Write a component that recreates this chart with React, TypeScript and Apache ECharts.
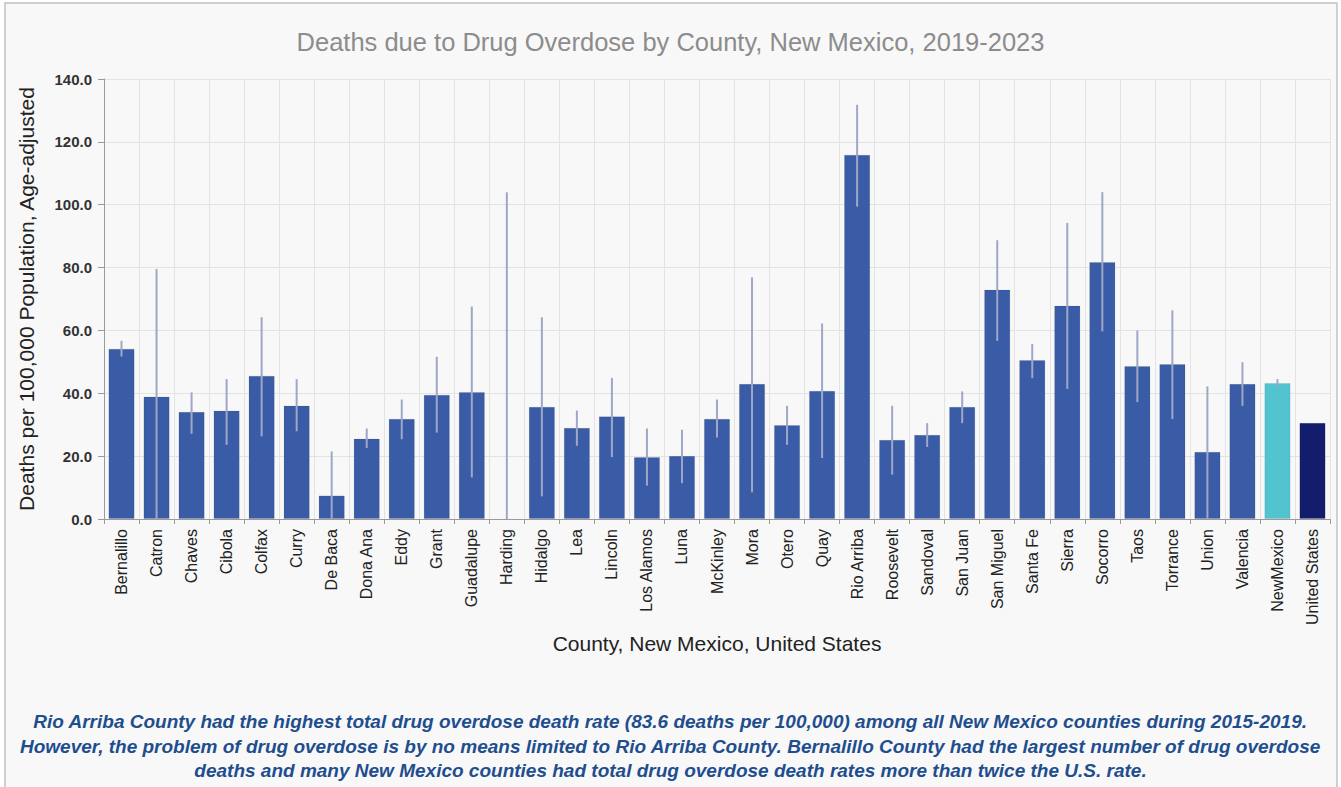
import React, { useEffect, useRef } from "react";
import * as echarts from "echarts";

const categories = [
  "Bernalillo", "Catron", "Chaves", "Cibola", "Colfax", "Curry", "De Baca", "Dona Ana",
  "Eddy", "Grant", "Guadalupe", "Harding", "Hidalgo", "Lea", "Lincoln", "Los Alamos",
  "Luna", "McKinley", "Mora", "Otero", "Quay", "Rio Arriba", "Roosevelt", "Sandoval",
  "San Juan", "San Miguel", "Santa Fe", "Sierra", "Socorro", "Taos", "Torrance", "Union",
  "Valencia", "NewMexico", "United States",
];

const rates: (number | null)[] = [
  54.2, 39.0, 34.1, 34.5, 45.6, 36.1, 7.5, 25.6,
  31.9, 39.5, 40.4, null, 35.7, 29.0, 32.7, 19.7,
  20.1, 31.9, 43.0, 29.9, 40.8, 115.9, 25.2, 26.8,
  35.7, 73.0, 50.6, 67.9, 81.8, 48.7, 49.3, 21.4,
  43.0, 43.3, 30.6,
];

const lowerCI: (number | null)[] = [
  51.7, 0, 27.1, 23.6, 26.3, 27.9, 0, 22.6,
  25.4, 27.5, 13.2, 0, 7.2, 23.3, 19.7, 10.6,
  11.4, 25.9, 8.5, 23.6, 19.4, 99.4, 14.1, 22.9,
  30.5, 56.7, 44.8, 41.4, 59.7, 37.2, 31.8, 0,
  36.0, 42.0, null,
];

const upperCI: (number | null)[] = [
  56.7, 79.5, 40.3, 44.5, 64.2, 44.5, 21.5, 28.8,
  38.0, 51.6, 67.6, 104.0, 64.2, 34.5, 44.9, 28.8,
  28.4, 38.0, 76.9, 36.0, 62.2, 131.8, 36.0, 30.5,
  40.6, 88.7, 55.7, 94.2, 104.0, 60.0, 66.4, 42.2,
  49.9, 44.5, null,
];

const yTicks = { min: 0, max: 140, interval: 20 };

const title = "Deaths due to Drug Overdose by County, New Mexico, 2019-2023";
const yAxisTitle = "Deaths per 100,000 Population, Age-adjusted";
const xAxisTitle = "County, New Mexico, United States";
const noteLines = [
  "Rio Arriba County had the highest total drug overdose death rate (83.6 deaths per 100,000) among all New Mexico counties during 2015-2019.",
  "However, the problem of drug overdose is by no means limited to Rio Arriba County. Bernalillo County had the largest number of drug overdose",
  "deaths and many New Mexico counties had total drug overdose death rates more than twice the U.S. rate.",
];

const COUNTY_COLOR = "#3a5ca6";
const NM_COLOR = "#52c4d0";
const US_COLOR = "#141c6c";

export default function App() {
  const ref = useRef<HTMLDivElement>(null);

  useEffect(() => {
    if (!ref.current) return;
    const chart = echarts.init(ref.current, null, { renderer: "svg" });

    const barData = rates.map((v, i) => {
      const name = categories[i];
      const color = name === "NewMexico" ? NM_COLOR : name === "United States" ? US_COLOR : COUNTY_COLOR;
      return { value: v, itemStyle: { color } };
    });

    const errData = categories
      .map((_, i) => [i, lowerCI[i], upperCI[i]])
      .filter((d) => d[1] !== null && d[2] !== null);

    const font = "Liberation Sans, Arial, sans-serif";

    chart.setOption({
      animation: false,
      backgroundColor: "#ffffff",
      textStyle: { fontFamily: font },
      title: {
        text: title,
        left: "center",
        top: 24,
        textStyle: { color: "#8c8c8c", fontSize: 25.5, fontWeight: "normal", fontFamily: font },
      },
      grid: { left: 104, right: 11, top: 79, bottom: 268, containLabel: false },
      xAxis: {
        type: "category",
        data: categories,
        name: xAxisTitle,
        nameLocation: "middle",
        nameGap: 113,
        nameTextStyle: { color: "#222", fontSize: 21, fontFamily: font },
        axisLine: { show: true, lineStyle: { color: "#9a9a9a", width: 1 } },
        axisTick: { show: true, alignWithLabel: false, length: 5, lineStyle: { color: "#9a9a9a" } },
        splitLine: { show: true, lineStyle: { color: "#e3e3e3", width: 1 } },
        axisLabel: {
          rotate: 90,
          interval: 0,
          margin: 10,
          color: "#222",
          fontSize: 16,
          fontFamily: font,
        },
      },
      yAxis: {
        type: "value",
        min: yTicks.min,
        max: yTicks.max,
        interval: yTicks.interval,
        name: yAxisTitle,
        nameLocation: "middle",
        nameGap: 67,
        nameTextStyle: { color: "#222", fontSize: 21, fontFamily: font },
        axisLine: { show: true, lineStyle: { color: "#9a9a9a", width: 1 } },
        axisTick: { show: true, length: 6, lineStyle: { color: "#9a9a9a" } },
        splitLine: { show: true, lineStyle: { color: "#e3e3e3", width: 1 } },
        axisLabel: {
          formatter: (v: number) => v.toFixed(1),
          color: "#333",
          fontSize: 15,
          fontWeight: "bold",
          margin: 12,
          fontFamily: font,
        },
      },
      graphic: [
        {
          type: "rect",
          z: -10,
          silent: true,
          shape: { x: 5, y: 3, width: 1332, height: 800 },
          style: { fill: "#f8f8f8", stroke: "#cfcfcf", lineWidth: 2 },
        },
        ...noteLines.map((line, i) => ({
          type: "text",
          left: "center",
          top: 712 + i * 24.5,
          silent: true,
          style: {
            text: line,
            fill: "#1f4e8e",
            fontSize: 19,
            fontStyle: "italic",
            fontWeight: "bold",
            fontFamily: font,
          },
        })),
      ],
      series: [
        {
          type: "bar",
          data: barData,
          barCategoryGap: "25%",
          itemStyle: { borderColor: "rgba(0,0,0,0.08)", borderWidth: 1 },
        },
        {
          type: "custom",
          data: errData,
          z: 10,
          renderItem: (params: any, api: any) => {
            const x = api.value(0);
            const lo = api.coord([x, api.value(1)]);
            const hi = api.coord([x, api.value(2)]);
            return {
              type: "line",
              shape: { x1: lo[0], y1: lo[1], x2: hi[0], y2: hi[1] },
              style: { stroke: "#9ea7c6", lineWidth: 2 },
            };
          },
        },
      ],
    });

    return () => chart.dispose();
  }, []);

  return (
    <div
      ref={ref}
      style={{ position: "absolute", left: 0, top: 0, width: 1341, height: 787 }}
    />
  );
}
